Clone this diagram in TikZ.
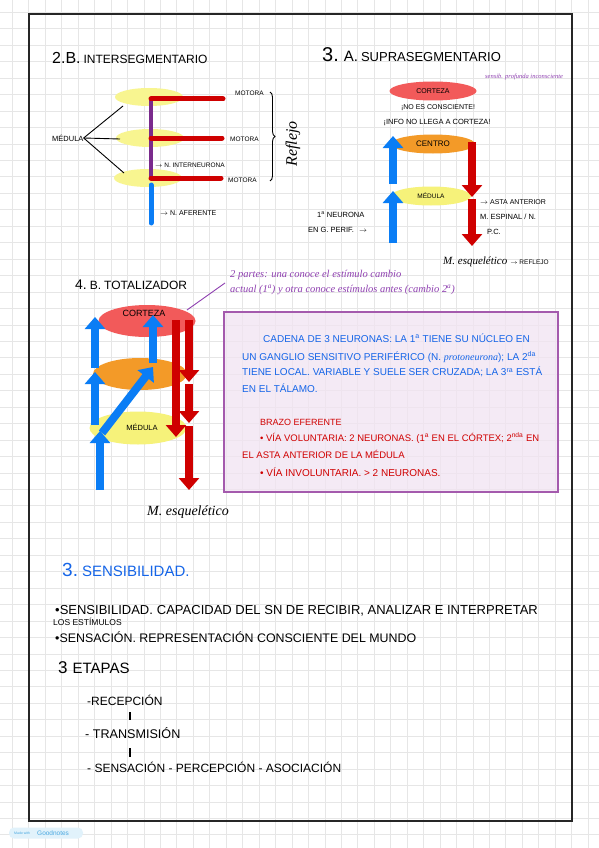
\documentclass[tikz,border=0pt]{standalone}
\usepackage{fontspec}
\setmainfont{Liberation Sans}
\newfontfamily\hand{Liberation Serif}
\usetikzlibrary{shapes.geometric,arrows.meta,decorations.pathreplacing}
\newcommand\myfs[1]{\fontsize{#1}{#1}\selectfont}
\definecolor{gridc}{HTML}{E6E6E6}
\definecolor{yel1}{HTML}{F8F590}
\definecolor{yel2}{HTML}{F6F27A}
\definecolor{orE}{HTML}{F39A28}
\definecolor{redE}{HTML}{F25A5A}
\definecolor{arrB}{HTML}{0A7DF5}
\definecolor{arrR}{HTML}{CF0000}
\definecolor{purp}{HTML}{7A2A8C}
\definecolor{txB}{HTML}{1565E8}
\definecolor{txR}{HTML}{D00000}
\definecolor{txP}{HTML}{8E3FB0}
\definecolor{boxF}{HTML}{F1E4F2}
\definecolor{boxD}{HTML}{A45AAD}
\definecolor{gnF}{HTML}{E1F2FB}
\definecolor{gnT}{HTML}{4AA8E0}
\tikzset{
 lbl/.style={inner sep=0pt, anchor=west, font=\myfs{#1}},
 cur/.style={inner sep=0pt, anchor=west, font=\hand\itshape\myfs{#1}},
 blob/.style={ellipse, inner sep=0pt, draw=none},
 barB/.style={line width=8pt, draw=arrB, -{Triangle[width=20pt,length=12pt]}},
 barR/.style={line width=8pt, draw=arrR, -{Triangle[width=20pt,length=12pt]}},
 rbar/.style={line width=5pt, draw=arrR, line cap=round},
 thinl/.style={line width=0.9pt, draw=black},
}
\begin{document}
\begin{tikzpicture}[x=1pt,y=-1pt]
\useasboundingbox (0,0) rectangle (599,848);
\fill[white] (0,0) rectangle (599,848);
% grid
\foreach \i in {0,...,35} \draw[gridc, line width=0.7pt] ({12.3+16.45*\i},0) -- ({12.3+16.45*\i},848);
\foreach \i in {0,...,50} \draw[gridc, line width=0.7pt] (0,{12.3+16.45*\i}) -- (599,{12.3+16.45*\i});
% frame
\draw[line width=2pt, draw=black!85] (29,14) rectangle (572,821);

% ---------- diagram 1 ----------
\node[lbl=16] (t1) at (52,58) {2.B.\hspace{3pt}{\myfs{12}INTERSEGMENTARIO}};
\node[blob, fill=yel1, minimum width=68pt, minimum height=18pt] (y1) at (149,97) {};
\node[blob, fill=yel1, minimum width=68pt, minimum height=18pt] (y2) at (150,138) {};
\node[blob, fill=yel1, minimum width=68pt, minimum height=18pt] (y3) at (148,178) {};
\coordinate (pv1) at (151,99);
\coordinate (pv2) at (151,138);
\coordinate (pv3) at (151,178);
\draw[line width=4pt, draw=purp, line cap=round] (pv1) -- (pv3);
\coordinate (rb1) at (223,99);
\coordinate (rb2) at (222,138);
\coordinate (rb3) at (221,178);
\draw[rbar] (pv1) -- (rb1);
\draw[rbar] (pv2) -- (rb2);
\draw[rbar] (pv3) -- (rb3);
\coordinate (bl1) at (151,185);
\coordinate (bl2) at (151,223);
\draw[line width=5pt, draw=arrB, line cap=round] (bl1) -- (bl2);
\node[lbl=7.5] (med1) at (52,138) {MÉDULA};
\coordinate (c1) at (123,106);
\coordinate (c2) at (120,139);
\coordinate (c3) at (124,173);
\draw[thinl] (med1.east) -- (c1);
\draw[thinl] (med1.east) -- (c2);
\draw[thinl] (med1.east) -- (c3);
\node[lbl=6.5] (m1) at (235,93) {MOTORA};
\node[lbl=6.5] (m2) at (230,139) {MOTORA};
\node[lbl=6.5] (m3) at (228,180) {MOTORA};
\coordinate (br1) at (270,92);
\coordinate (br2) at (270,181);
\draw[thinl, decorate, decoration={brace, amplitude=5pt}] (br1) -- (br2);
\node[rotate=90, inner sep=0pt, font=\hand\itshape\myfs{16}] (refl) at (293,144) {Reflejo};
\node[lbl=6.5] (ni) at (155,165) {$\rightarrow$ N. INTERNEURONA};
\node[lbl=7] (na) at (160,213) {$\rightarrow$ N. AFERENTE};

% ---------- diagram 2 ----------
\node[lbl=13] (t2) at (322,55) {{\myfs{20}3.}\hspace{5pt}{\myfs{15}A.}\hspace{3pt}SUPRASEGMENTARIO};
\node[cur=6.5, text=txP] (sp) at (485,77) {sensib. profunda inconsciente};
\node[blob, fill=redE, minimum width=87pt, minimum height=19pt, font=\myfs{7}] (cz2) at (433,91) {CORTEZA};
\node[lbl=7, anchor=center] (nc) at (438,108) {¡NO ES CONSCIENTE!};
\node[lbl=7.5, anchor=center] (nl) at (437,122) {¡INFO NO LLEGA A CORTEZA!};
\node[blob, fill=orE, minimum width=84pt, minimum height=19pt, font=\myfs{8}] (ce2) at (433,144) {CENTRO};
\node[blob, fill=yel2, minimum width=80pt, minimum height=19pt, font=\myfs{6.5}] (md2) at (431,196) {MÉDULA};
\coordinate (b1s) at (393,243);
\coordinate (b1e) at (393,191);
\coordinate (b2s) at (393,184);
\coordinate (b2e) at (393,136);
\draw[barB] (b1s) -- (b1e);
\draw[barB] (b2s) -- (b2e);
\coordinate (r1s) at (472,142);
\coordinate (r1e) at (472,197);
\coordinate (r2s) at (472,199);
\coordinate (r2e) at (472,246);
\draw[barR] (r1s) -- (r1e);
\draw[barR] (r2s) -- (r2e);
\node[lbl=7.5] (n1) at (317,215) {1\textsuperscript{a} NEURONA};
\node[lbl=7.5] (n2) at (308,230) {EN G. PERIF.\hspace{5pt}$\rightarrow$};
\node[lbl=7] (aa) at (480,202) {$\rightarrow$ ASTA ANTERIOR};
\node[lbl=7.5] (me) at (480,217) {M. ESPINAL / N.};
\node[lbl=7.5] (pc) at (487,232) {P.C.};
\node[cur=11] (mes2) at (443,262) {M. esquelético\hspace{3pt}{\normalfont\upshape\myfs{6.5}$\rightarrow$ REFLEJO}};

% ---------- diagram 3 ----------
\node[lbl=12] (t3) at (75,285) {{\myfs{14}4.}\hspace{3pt}B.\hspace{3pt}TOTALIZADOR};
\coordinate (pl1) at (187,310);
\coordinate (pl2) at (225,283);
\draw[line width=0.9pt, draw=txP] (pl1) -- (pl2);
\node[cur=10.5, text=txP] (pn1) at (230,275) {2 partes: una conoce el estímulo cambio};
\node[cur=10.5, text=txP] (pn2) at (230,290) {actual (1\textsuperscript{a}) y otra conoce estímulos antes (cambio 2\textsuperscript{a})};
\node[blob, fill=redE, minimum width=97pt, minimum height=32pt] (cz3) at (147,321) {};
\node[lbl=9, anchor=center] (czt) at (144,313) {CORTEZA};
\node[blob, fill=orE, minimum width=94pt, minimum height=32pt] (ce3) at (140,374) {};
\node[blob, fill=yel2, minimum width=97pt, minimum height=33pt] (md3) at (138,428) {};
\node[lbl=7.5, anchor=center] (mdt) at (142,427) {MÉDULA};
% blue arrows
\coordinate (a1s) at (100,490);
\coordinate (a1e) at (100,431);
\coordinate (a2s) at (95,425);
\coordinate (a2e) at (95,372);
\coordinate (a3s) at (95,368);
\coordinate (a3e) at (95,317);
\coordinate (dgs) at (102,433);
\coordinate (dge) at (153,367);
\coordinate (a4s) at (153,363);
\coordinate (a4e) at (153,315);
\draw[barB] (a1s) -- (a1e);
\draw[barB] (a2s) -- (a2e);
\draw[barB] (a3s) -- (a3e);
\draw[barB] (dgs) -- (dge);
\draw[barB] (a4s) -- (a4e);
% red arrows
\coordinate (l1s) at (176,320);
\coordinate (l1e) at (176,437);
\coordinate (q1s) at (189,320);
\coordinate (q1e) at (189,382);
\coordinate (q2s) at (189,384);
\coordinate (q2e) at (189,423);
\coordinate (q3s) at (189,426);
\coordinate (q3e) at (189,490);
\draw[barR] (l1s) -- (l1e);
\draw[barR] (q1s) -- (q1e);
\draw[barR] (q2s) -- (q2e);
\draw[barR] (q3s) -- (q3e);
\node[cur=14] (mes3) at (147,512) {M. esquelético};

% ---------- purple box ----------
\path[fill=boxF, fill opacity=0.75, draw=boxD, line width=1.3pt] (224,312) rectangle (558,492);
\node[lbl=10, text=txB] (bx1) at (263,338) {CADENA DE 3 NEURONAS: LA 1\textsuperscript{a} TIENE SU NÚCLEO EN};
\node[lbl=10, text=txB] (bx2) at (242,357) {UN GANGLIO SENSITIVO PERIFÉRICO (N. {\hand\itshape protoneurona}); LA 2\textsuperscript{da}};
\node[lbl=10, text=txB] (bx3) at (242,372) {TIENE LOCAL. VARIABLE Y SUELE SER CRUZADA; LA 3\textsuperscript{ra} ESTÁ};
\node[lbl=10, text=txB] (bx4) at (242,388) {EN EL TÁLAMO.};
\node[lbl=9, text=txR] (bx5) at (260,422) {BRAZO EFERENTE};
\node[lbl=9.5, text=txR] (bx6) at (260,438) {• VÍA VOLUNTARIA: 2 NEURONAS. (1\textsuperscript{a} EN EL CÓRTEX; 2\textsuperscript{nda} EN};
\node[lbl=9.5, text=txR] (bx7) at (242,454) {EL ASTA ANTERIOR DE LA MÉDULA};
\node[lbl=10, text=txR] (bx8) at (260,472) {• VÍA INVOLUNTARIA. > 2 NEURONAS.};

% ---------- sensibilidad ----------
\node[lbl=15, text=txB] (s1) at (62,570) {{\myfs{19}3.}\hspace{4pt}SENSIBILIDAD.};
\node[lbl=13] (s2) at (55,611) {•SENSIBILIDAD.\hspace{4pt}CAPACIDAD DEL SN DE RECIBIR, ANALIZAR E INTERPRETAR};
\node[lbl=8.5] (s3) at (53,622) {LOS ESTÍMULOS};
\node[lbl=12.4] (s4) at (55,637) {•SENSACIÓN. REPRESENTACIÓN CONSCIENTE DEL MUNDO};
\node[lbl=15] (e0) at (58,668) {{\myfs{17}3}\hspace{5pt}ETAPAS};
\node[lbl=12] (e1) at (87,700) {-RECEPCIÓN};
\node[lbl=12.6] (e2) at (85,733) {- TRANSMISIÓN};
\node[lbl=12] (e3) at (87,767) {- SENSACIÓN - PERCEPCIÓN - ASOCIACIÓN};
\coordinate (v1a) at (130,712);
\coordinate (v1b) at (130,720);
\coordinate (v2a) at (130,748);
\coordinate (v2b) at (130,757);
\draw[line width=1.6pt] (v1a) -- (v1b);
\draw[line width=1.6pt] (v2a) -- (v2b);

% ---------- goodnotes badge ----------
\node[draw=none, fill=gnF, rounded corners=5pt, minimum width=74pt, minimum height=11pt, inner sep=0pt] (gn) at (46,833) {};
\node[inner sep=0pt, font=\myfs{3.5}, text=gnT, anchor=west] (gn1) at (14,833) {Made with};
\node[inner sep=0pt, font=\myfs{6.5}, text=gnT, anchor=west] (gn2) at (37,833) {Goodnotes};
\end{tikzpicture}
\end{document}
